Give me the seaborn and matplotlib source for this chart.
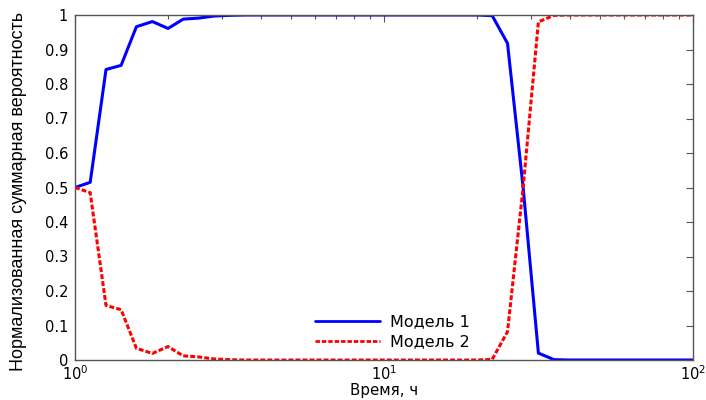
import matplotlib
matplotlib.use("Agg")
import matplotlib.pyplot as plt
import matplotlib.ticker as mticker
import numpy as np
import pandas as pd
import seaborn as sns

# Time grid, hours (log-spaced samples)
times = [1.0, 1.12, 1.26, 1.41, 1.58, 1.78, 2.0, 2.24, 2.51, 2.82,
         3.16, 3.55, 3.98, 4.47, 5.01, 5.62, 6.31, 7.08, 7.94, 8.91,
         10.0, 11.2, 12.6, 14.1, 15.8, 17.8, 20.0, 22.4, 25.1, 28.2,
         31.6, 35.5, 39.8, 44.7, 50.1, 56.2, 63.1, 70.8, 79.4, 89.1, 100.0]

# Normalized cumulative probability of each model
model1 = [0.500, 0.515, 0.842, 0.854, 0.966, 0.981, 0.961, 0.988, 0.991, 0.997,
          0.999, 1.0, 1.0, 1.0, 1.0, 1.0, 1.0, 1.0, 1.0, 1.0,
          1.0, 1.0, 1.0, 1.0, 1.0, 1.0, 1.0, 0.998, 0.918, 0.500,
          0.020, 0.001, 0.0, 0.0, 0.0, 0.0, 0.0, 0.0, 0.0, 0.0, 0.0]
model2 = [0.500, 0.485, 0.158, 0.146, 0.034, 0.019, 0.039, 0.012, 0.009, 0.003,
          0.001, 0.0, 0.0, 0.0, 0.0, 0.0, 0.0, 0.0, 0.0, 0.0,
          0.0, 0.0, 0.0, 0.0, 0.0, 0.0, 0.0, 0.002, 0.082, 0.500,
          0.980, 0.999, 1.0, 1.0, 1.0, 1.0, 1.0, 1.0, 1.0, 1.0, 1.0]

labels = ["Модель 1", "Модель 2"]
y_ticks = [0, 0.1, 0.2, 0.3, 0.4, 0.5, 0.6, 0.7, 0.8, 0.9, 1.0]

df = pd.DataFrame({
    "t": times * 2,
    "p": model1 + model2,
    "model": [labels[0]] * len(times) + [labels[1]] * len(times),
})

sns.set_theme(style="white")
plt.rcParams["font.family"] = ["DejaVu Sans"]
plt.rcParams["text.color"] = "black"
plt.rcParams["axes.labelcolor"] = "black"

fig = plt.figure(figsize=(7.06, 4.0), dpi=100)
ax = fig.add_axes([75 / 706, 40 / 400, 618 / 706, 345 / 400])

sns.lineplot(data=df, x="t", y="p", hue="model", style="model",
             palette={labels[0]: "#0000ff", labels[1]: "#ff0000"},
             dashes={labels[0]: "", labels[1]: (1.6, 0.7)},
             linewidth=2.2, ax=ax, legend=True)

ax.set_xscale("log")
ax.set_xlim(1, 100)
ax.set_ylim(0, 1)
ax.yaxis.set_major_locator(mticker.FixedLocator(y_ticks))
ax.yaxis.set_major_formatter(mticker.FuncFormatter(lambda v, _: f"{v:g}"))
ax.xaxis.set_major_locator(mticker.LogLocator(base=10))
ax.xaxis.set_minor_locator(mticker.LogLocator(base=10, subs=np.arange(2, 10)))
ax.xaxis.set_minor_formatter(mticker.NullFormatter())

for s in ax.spines.values():
    s.set_color("#555555")
    s.set_linewidth(1.0)

ax.tick_params(which="both", direction="in", top=True, right=True,
               colors="#555555", labelcolor="black", labelsize=10.5)
ax.tick_params(which="major", length=5, width=0.8)
ax.tick_params(which="minor", length=3, width=0.8)
ax.tick_params(axis="y", pad=5)
ax.tick_params(axis="x", pad=3)

ax.set_xlabel("Время, ч", fontsize=10.8, color="black")
ax.xaxis.set_label_coords(0.5, -0.066)
ax.set_ylabel("Нормализованная суммарная вероятность", fontsize=13, color="black",
              family=["Liberation Sans Narrow", "Liberation Sans", "DejaVu Sans"])
ax.yaxis.set_label_coords(-0.078, 0.49)

leg = ax.legend(loc="center", bbox_to_anchor=(392 / 706, 1 - 332 / 400),
                bbox_transform=fig.transFigure, frameon=False,
                fontsize=11.5, handlelength=4.1, handletextpad=0.6,
                labelspacing=0.3)
for txt in leg.get_texts():
    txt.set_color("black")
for h in leg.get_lines():
    h.set_linewidth(2.0)

fig.savefig("out.png", dpi=100)
